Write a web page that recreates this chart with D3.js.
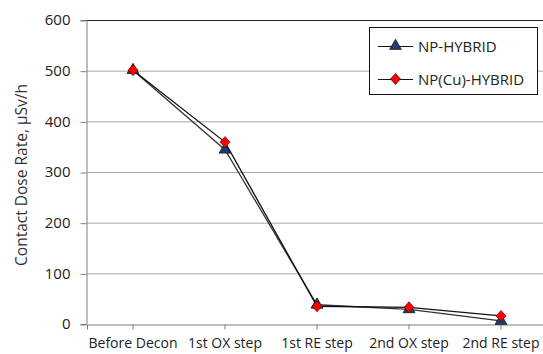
<!DOCTYPE html>
<html><head><meta charset="utf-8">
<script src="https://cdn.jsdelivr.net/npm/d3@7"></script>
<style>body{margin:0;background:#fff}svg{display:block}</style>
</head><body>
<script>
const categories = ["Before Decon","1st OX step","1st RE step","2nd OX step","2nd RE step"];
const npHybrid = [501, 344, 38, 29, 6];
const npCuHybrid = [501, 359, 35, 33, 16];
const yTicks = [0,100,200,300,400,500,600];
const seriesNames = ["NP-HYBRID","NP(Cu)-HYBRID"];

const W=543,H=354;
const m={left:87,top:20,right:547,bottom:324};
const font="'Open Sans', 'Noto Sans', sans-serif";
const svg=d3.select("body").append("svg").attr("width",W).attr("height",H);

const x=d3.scaleBand().domain(categories).range([m.left,m.right]);
const y=d3.scaleLinear().domain([0,600]).range([m.bottom,m.top]);
const cx=d=>x(d)+x.bandwidth()/2;

// gridlines
svg.append("g").selectAll("line").data(yTicks.filter(t=>t>0)).join("line")
  .attr("x1",m.left).attr("x2",W).attr("y1",d=>y(d)+0.5).attr("y2",d=>y(d)+0.5)
  .attr("stroke",d=>d===600?"#222":"#a6a6a6").attr("stroke-width",1);

// y axis
const ya=svg.append("g").attr("transform",`translate(${m.left-0.5},0)`)
  .call(d3.axisLeft(y).tickValues(yTicks).tickSize(6).tickPadding(10));
ya.select(".domain").attr("stroke","#7f7f7f");
ya.selectAll(".tick line").attr("stroke","#7f7f7f").attr("transform","translate(0,0.5)");
ya.selectAll("text").attr("font-family",font).attr("font-size",15).attr("fill","#222");

// x axis
const xa=svg.append("g").attr("transform",`translate(0,${m.bottom+0.5})`)
  .call(d3.axisBottom(x).tickSize(5).tickPadding(9));
xa.select(".domain").attr("stroke","#7f7f7f");
xa.selectAll(".tick line").attr("stroke","#7f7f7f");
xa.selectAll("text").attr("font-family",font).attr("font-size",14).attr("fill","#222");

// y title
svg.append("text").attr("transform",`translate(27,${(m.top+m.bottom)/2+3}) rotate(-90)`)
  .attr("text-anchor","middle").attr("font-family",font).attr("font-size",15.5).attr("fill","#333")
  .text("Contact Dose Rate, µSv/h");

const line=d3.line().x((d,i)=>cx(categories[i])).y(d=>y(d));
const triPath=d3.symbol().type(d3.symbolTriangle).size(60)();
const diaPath="M0,-5.5L5,0L0,5.5L-5,0Z";

svg.append("path").datum(npHybrid).attr("d",line).attr("fill","none").attr("stroke","#333").attr("stroke-width",1.3);
svg.append("path").datum(npCuHybrid).attr("d",line).attr("fill","none").attr("stroke","#111").attr("stroke-width",1.3);
svg.append("g").selectAll("path").data(npHybrid).join("path")
  .attr("transform",(d,i)=>`translate(${cx(categories[i])},${y(d)})`).attr("d",triPath)
  .attr("fill","#1f3d6b").attr("stroke","#111").attr("stroke-width",0.8);
svg.append("g").selectAll("path").data(npCuHybrid).join("path")
  .attr("transform",(d,i)=>`translate(${cx(categories[i])},${y(d)})`).attr("d",diaPath)
  .attr("fill","#ff0000").attr("stroke","#400").attr("stroke-width",0.6);

// legend
const lg=svg.append("g");
lg.append("rect").attr("x",369.5).attr("y",27.5).attr("width",168).attr("height",67)
  .attr("fill","#fff").attr("stroke","#111").attr("stroke-width",1);
const rows=[46,79];
seriesNames.forEach((n,i)=>{
  lg.append("line").attr("x1",378).attr("x2",413).attr("y1",rows[i]+0.5).attr("y2",rows[i]+0.5).attr("stroke","#111").attr("stroke-width",1.2);
  lg.append("path").attr("transform",`translate(395.5,${rows[i]})`).attr("d",i===0?triPath:diaPath)
    .attr("fill",i===0?"#1f3d6b":"#ff0000").attr("stroke",i===0?"#111":"#400").attr("stroke-width",0.7);
  lg.append("text").attr("x",418).attr("y",rows[i]+5.5).attr("font-family",font).attr("font-size",15).attr("fill","#222").text(n);
});
</script>
</body></html>
